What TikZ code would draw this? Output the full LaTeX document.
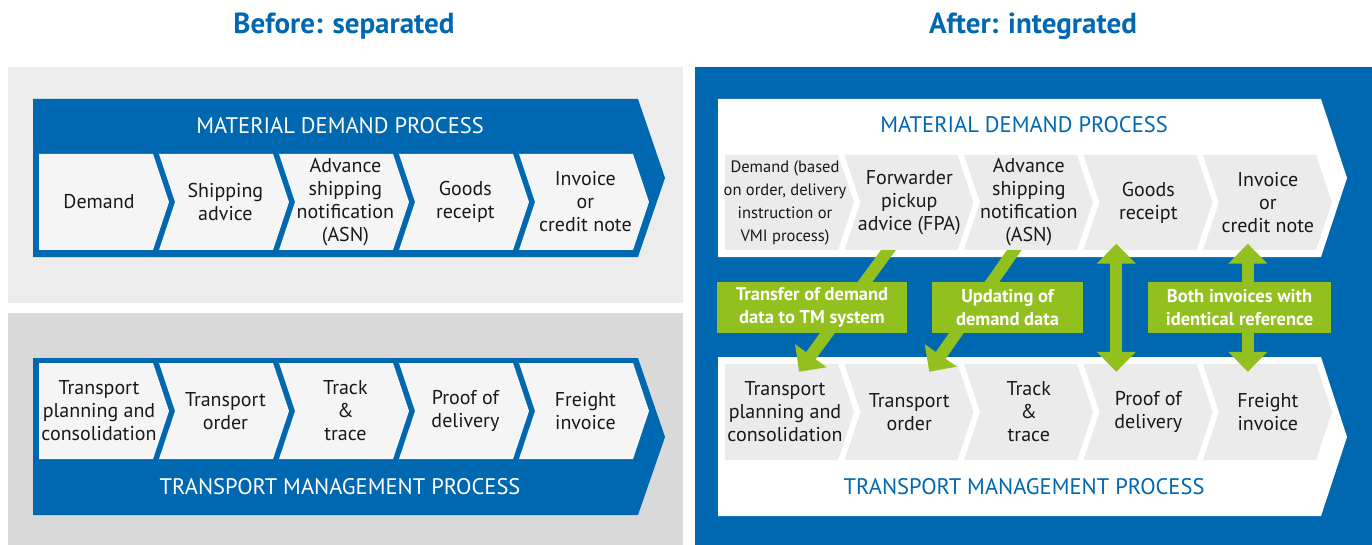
\documentclass[tikz,border=0pt]{standalone}
\usepackage{fontspec}
\setmainfont{PT Sans}
\usepackage{tikz}
\usetikzlibrary{arrows.meta}

\definecolor{sapblue}{RGB}{0,103,177}
\definecolor{lightpanel}{RGB}{236,236,236}
\definecolor{darkpanel}{RGB}{217,217,217}
\definecolor{boxL}{RGB}{245,245,245}
\definecolor{boxR}{RGB}{235,235,235}
\definecolor{sapgreen}{RGB}{146,192,31}
\definecolor{txt}{RGB}{25,25,25}

\begin{document}
\begin{tikzpicture}[x=1pt, y=-1pt,
  boxtext/.style={align=center, inner sep=0pt, minimum height=96pt, text=txt, font=\fontsize{20}{23}\selectfont},
  hdr/.style={font=\fontsize{22.5}{26}\selectfont},
  ttl/.style={text=sapblue, font=\fontsize{29}{32}\selectfont\bfseries},
  lbl/.style={fill=sapgreen, text=white, align=center, inner sep=0pt, minimum height=51pt, font=\fontsize{18.5}{23}\selectfont\bfseries},
  link/.style={draw=sapgreen, line width=12pt, -{Triangle[width=38pt, length=20pt]}},
  link2/.style={link, {Triangle[width=38pt, length=20pt]}-{Triangle[width=38pt, length=20pt]}}]
\useasboundingbox (0,0) rectangle (1372,545);

% before: separated
\node[ttl] (before) at (344,26) {Before: separated};
\fill[lightpanel] (8,67) rectangle (683,303);
\fill[darkpanel] (8,313) rectangle (683,545);
\fill[sapblue] (33,99) -- (638,99) -- (665,178) -- (638,257) -- (33,257) -- cycle;
\fill[sapblue] (33,358) -- (638,358) -- (665,437) -- (638,515) -- (33,515) -- cycle;
\node[hdr, text=white] (mdL) at (340,126) {MATERIAL DEMAND PROCESS};
\node[hdr, text=white] (tmL) at (340,487) {TRANSPORT MANAGEMENT PROCESS};
\foreach \t [count=\i] in {Demand, Shipping\\advice, Advance\\shipping\\notification\\(ASN), Goods\\receipt, Invoice\\or\\credit note}{
  \pgfmathsetmacro\x{39+120*(\i-1)}
  \pgfmathsetmacro\n{(\i>1)*16}
  \fill[boxL] (\x,154) -- ++(114,0) -- ++(16,48) -- ++(-16,48) -- ++(-114,0) -- ++(\n,-48) -- cycle;
  \node[boxtext] (mdL-\i) at ({\x+60+0.4*\n},202) {\t};
}
\foreach \t [count=\i] in {Transport\\planning and\\consolidation, Transport\\order, Track\\\&\\trace, Proof of\\delivery, Freight\\invoice}{
  \pgfmathsetmacro\x{39+120*(\i-1)}
  \pgfmathsetmacro\n{(\i>1)*16}
  \fill[boxL] (\x,363) -- ++(114,0) -- ++(16,48) -- ++(-16,48) -- ++(-114,0) -- ++(\n,-48) -- cycle;
  \node[boxtext] (tmL-\i) at ({\x+60+0.4*\n},411) {\t};
}

% after: integrated
\node[ttl] (after) at (1033,26) {After: integrated};
\fill[sapblue] (695,67) rectangle (1372,545);
\fill[white] (718,99) -- (1321,99) -- (1347,178) -- (1321,257) -- (718,257) -- cycle;
\fill[white] (718,357) -- (1321,357) -- (1347,437) -- (1321,516) -- (718,516) -- cycle;
\node[hdr, text=sapblue] (mdR) at (1024,125) {MATERIAL DEMAND PROCESS};
\node[hdr, text=sapblue] (tmR) at (1024,487) {TRANSPORT MANAGEMENT PROCESS};
\foreach \t [count=\i] in {Demand (based\\on order{,} delivery\\instruction or\\VMI process), Forwarder\\pickup\\advice (FPA), Advance\\shipping\\notification\\(ASN), Goods\\receipt, Invoice\\or\\credit note}{
  \pgfmathsetmacro\x{725+119.5*(\i-1)}
  \pgfmathsetmacro\n{(\i>1)*16}
  \fill[boxR] (\x,155) -- ++(113,0) -- ++(16,47.5) -- ++(-16,47.5) -- ++(-113,0) -- ++(\n,-47.5) -- cycle;
  \node[boxtext, font=\ifcase\i\or\fontsize{16.5}{23}\else\fontsize{20}{23}\fi\selectfont] (mdR-\i) at ({\x+60+0.3*\n},202.5) {\t};
}
\foreach \t [count=\i] in {Transport\\planning and\\consolidation, Transport\\order, Track\\\&\\trace, Proof of\\delivery, Freight\\invoice}{
  \pgfmathsetmacro\x{725+119.5*(\i-1)}
  \pgfmathsetmacro\n{(\i>1)*16}
  \fill[boxR] (\x,364) -- ++(113,0) -- ++(16,48) -- ++(-16,48) -- ++(-113,0) -- ++(\n,-48) -- cycle;
  \node[boxtext] (tmR-\i) at ({\x+60+0.3*\n},412) {\t};
}

% data links
\begin{scope}
  \clip (695,250.5) rectangle (1372,545);
  \draw[link] ([shift={(-14,-10)}]mdR-2.south) -- ([shift={(14,8)}]tmR-1.north);
  \draw[link] ([shift={(-8,-10)}]mdR-3.south) -- ([shift={(20,8)}]tmR-2.north);
\end{scope}
\draw[link2] ([shift={(-32,-7)}]mdR-4.south) -- ([shift={(-32,8)}]tmR-4.north);
\draw[link2] ([shift={(-20,-7)}]mdR-5.south) -- ([shift={(-20,8)}]tmR-5.north);
\node[lbl, minimum width=190pt] (transfer) at (812,307.5) {Transfer of demand\\data to TM system};
\node[lbl, minimum width=151pt] (update) at (1007.5,307.5) {Updating of\\demand data};
\node[lbl, minimum width=183pt] (both) at (1239.5,307.5) {Both invoices with\\identical reference};
\end{tikzpicture}
\end{document}
